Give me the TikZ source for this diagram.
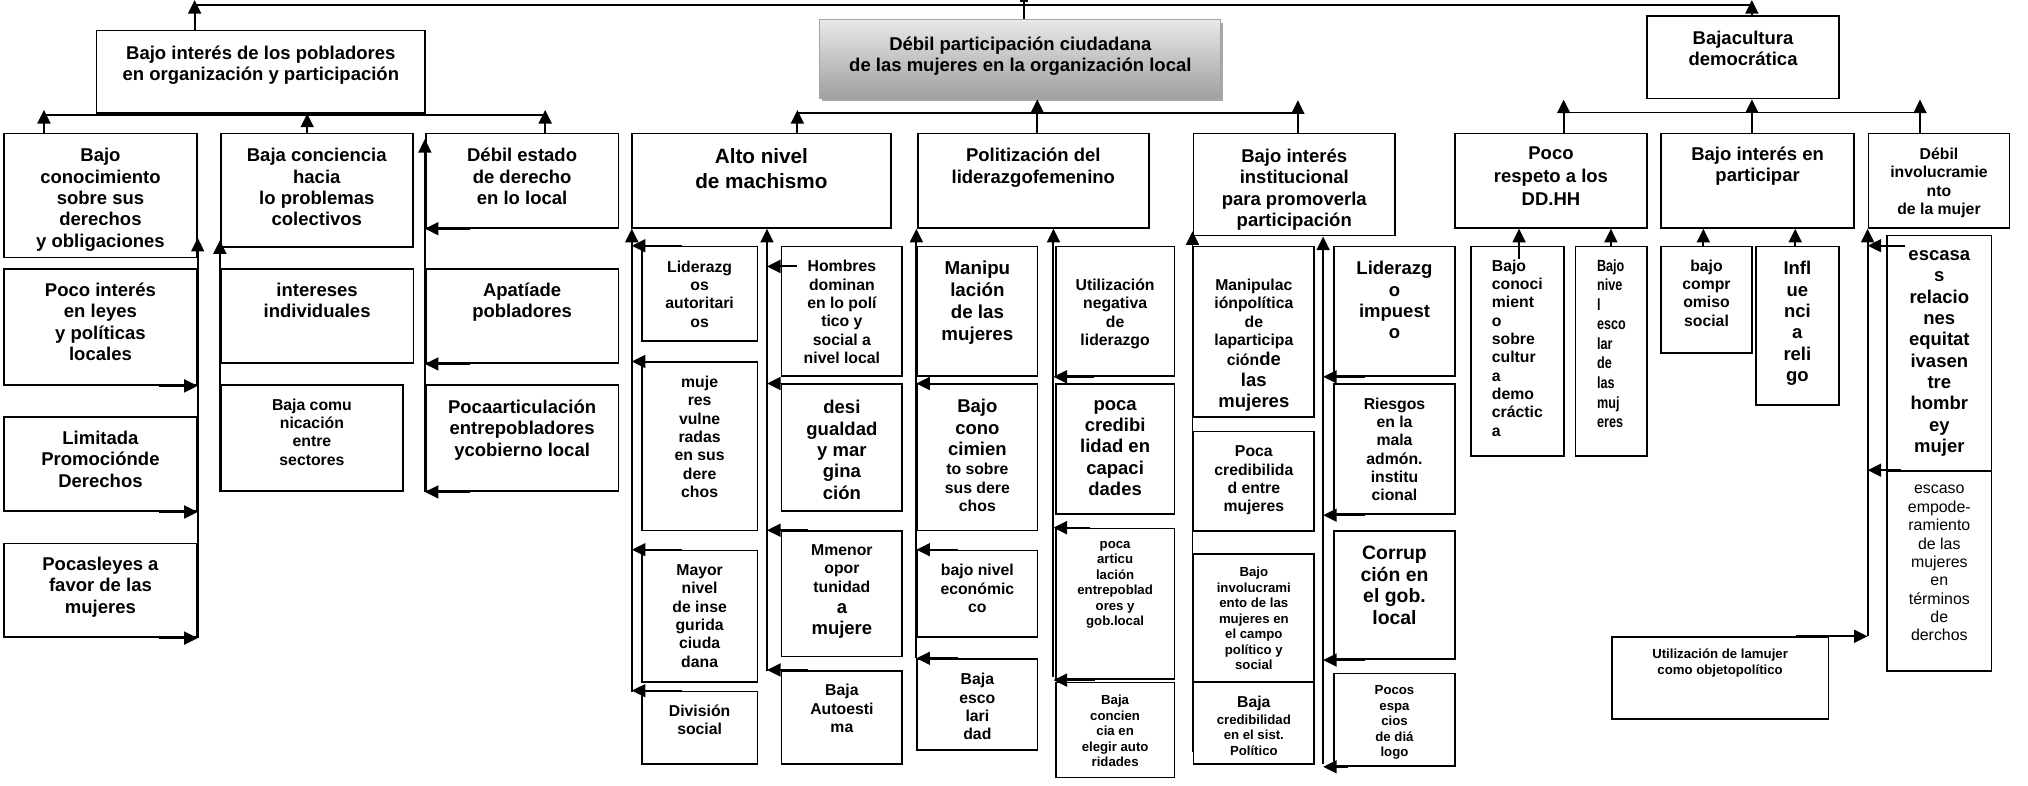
\documentclass[tikz,border=0pt]{standalone}
\usepackage{fontspec}
\setmainfont{Liberation Sans}
\usetikzlibrary{positioning,arrows.meta,shadows}
\newcommand{\grande}[1]{{\fontsize{14.3}{16.5}\selectfont #1}}
\newcommand{\medio}[1]{{\fontsize{12.2}{14.2}\selectfont #1}}

\begin{document}
\begin{tikzpicture}[x=1pt,y=-1pt]
\tikzstyle{box}=[draw,line width=1.35pt,anchor=north west,inner sep=0pt]
\tikzstyle{txt}=[align=center,inner sep=0pt,below=11pt]
\tikzstyle{big}=[font=\fontsize{14.3}{16.5}\selectfont\bfseries]
\tikzstyle{mid}=[font=\fontsize{12.2}{14.2}\selectfont\bfseries]
\tikzstyle{sml}=[font=\fontsize{10.2}{12}\selectfont\bfseries]
\tikzstyle{arr}=[line width=1.5pt,-{Triangle[length=10.5pt,width=10pt]}]
\tikzstyle{bus}=[line width=1.3pt]

\fill [white] (0,0) rectangle (1568,607);
\useasboundingbox (0,0) rectangle (1568,607);

% left branch
\node (l0) [box,minimum width=254pt,minimum height=63.5pt,label={[txt,big,below=12pt]north:{Bajo interés de los pobladores\\en organización y participación}}] at (74,23) {};
\node (l1) [box,minimum width=149pt,minimum height=96pt,label={[txt,big,below=12pt]north:{Bajo\\conocimiento\\sobre sus\\derechos\\y obligaciones}}] at (2.5,102.5) {};
\node (l2) [box,minimum width=148.5pt,minimum height=88pt,label={[txt,big,below=12pt]north:{Baja conciencia\\hacia\\lo problemas\\colectivos}}] at (170,102.5) {};
\node (l3) [box,minimum width=149pt,minimum height=73pt,label={[txt,big,below=12pt]north:{Débil estado\\de derecho\\en lo local}}] at (328.5,102.5) {};
\node (l1a) [box,minimum width=149pt,minimum height=89.5pt,label={[txt,big]north:{Poco interés\\en leyes\\y políticas\\locales}}] at (2.5,207.5) {};
\node (l1b) [box,minimum width=149pt,minimum height=72.5pt,label={[txt,big]north:{Limitada\\Promociónde\\Derechos}}] at (2.5,322) {};
\node (l1c) [box,minimum width=149pt,minimum height=72.5pt,label={[txt,big]north:{Pocasleyes a\\favor de las\\mujeres}}] at (2.5,419.5) {};
\node (l2a) [box,minimum width=149pt,minimum height=72.5pt,label={[txt,big]north:{intereses\\individuales}}] at (170,207.5) {};
\node (l2b) [box,minimum width=141pt,minimum height=82pt,label={[txt,mid]north:{Baja comu\\nicación\\entre\\sectores}}] at (170,297) {};
\node (l3a) [box,minimum width=149pt,minimum height=72.5pt,label={[txt,big]north:{Apatíade\\pobladores}}] at (328.5,207.5) {};
\node (l3b) [box,minimum width=149pt,minimum height=82pt,label={[txt,big,below=12pt]north:{Pocaarticulación\\entrepobladores\\ycobierno local}}] at (328.5,297) {};

% central problem
\node (c0) [box,draw=gray!70,line width=0.8pt,top color=gray!18,bottom color=gray!75,drop shadow={shadow xshift=2pt,shadow yshift=-2pt,fill=gray!70,opacity=1},minimum width=310pt,minimum height=61pt,label={[txt,big,below=13pt]north:{Débil participación ciudadana\\de las mujeres en la organización local}}] at (633.5,15) {};
\node (c1) [box,minimum width=200pt,minimum height=73pt,label={[txt,font=\fontsize{16}{19.3}\selectfont\bfseries,below=12.5pt]north:{Alto nivel\\de machismo}}] at (488,102.5) {};
\node (c2) [box,minimum width=178.5pt,minimum height=73pt,label={[txt,big,below=12pt]north:{Politización del\\liderazgofemenino}}] at (709,102.5) {};
\node (c3) [box,minimum width=156pt,minimum height=79pt,label={[txt,big,below=12.5pt]north:{Bajo interés\\institucional\\para promoverla\\participación}}] at (922,102.5) {};

% machismo
\node (ma1) [box,minimum width=89.5pt,minimum height=73pt,label={[txt,mid,below=11.4pt]north:{Liderazg\\os\\autoritari\\os}}] at (495.5,190) {};
\node (ma2) [box,minimum width=89.5pt,minimum height=130pt,label={[txt,mid]north:{muje\\res\\vulne\\radas\\en sus\\dere\\chos}}] at (495.5,279.5) {};
\node (ma3) [box,minimum width=89.5pt,minimum height=101.5pt,label={[txt,mid,below=11.3pt]north:{Mayor\\nivel\\de inse\\gurida\\ciuda\\dana}}] at (495.5,425) {};
\node (ma4) [box,minimum width=89.5pt,minimum height=56pt,label={[txt,mid,below=10.7pt]north:{División\\social}}] at (495.5,534) {};
\node (mb1) [box,minimum width=93.5pt,minimum height=100pt,label={[txt,mid]north:{Hombres\\dominan\\en lo polí\\tico y\\social a\\nivel local}}] at (603.5,190) {};
\node (mb2) [box,minimum width=93.5pt,minimum height=98pt,label={[txt,big,below=13pt]north:{desi\\gualdad\\y mar\\gina\\ción}}] at (603.5,296.5) {};
\node (mb3) [box,minimum width=93.5pt,minimum height=97pt,label={[txt,mid,below=10.8pt]north:{Mmenor\\opor\\tunidad\\[2pt]\grande{a}\\[2.5pt]\grande{mujere}}}] at (603.5,410) {};
\node (mb4) [box,minimum width=93.5pt,minimum height=72pt,label={[txt,mid,below=10.9pt]north:{Baja\\Autoesti\\ma}}] at (603.5,518) {};

% politizacion
\node (mc1) [box,minimum width=93pt,minimum height=100pt,label={[txt,font=\fontsize{14.5}{17}\selectfont\bfseries,below=11.8pt]north:{Manipu\\lación\\de las\\mujeres}}] at (708.5,190) {};
\node (mc2) [box,minimum width=93pt,minimum height=113pt,label={[txt,mid,below=12pt]north:{\grande{Bajo}\\[2.5pt]\grande{cono}\\[2.5pt]\grande{cimien}\\[0.5pt]to sobre\\sus dere\\chos}}] at (708.5,296.5) {};
\node (mc3) [box,minimum width=93pt,minimum height=67pt,label={[txt,mid,below=11.3pt]north:{bajo nivel\\económic\\co}}] at (708.5,425) {};
\node (mc4) [box,minimum width=93pt,minimum height=70pt,label={[txt,mid,below=11.4pt]north:{Baja\\esco\\lari\\dad}}] at (708.5,509) {};
\node (md1) [box,minimum width=92pt,minimum height=100pt,label={[txt,mid,below=25.5pt]north:{Utilización\\negativa\\de\\liderazgo}}] at (815.5,190) {};
\node (md2) [box,minimum width=92pt,minimum height=100pt,label={[txt,big,below=12.6pt]north:{poca\\credibi\\lidad en\\capaci\\dades}}] at (815.5,296.5) {};
\node (md3) [box,minimum width=92pt,minimum height=116.5pt,label={[txt,sml,below=10.3pt]north:{poca\\articu\\lación\\entrepoblad\\ores y\\gob.local}}] at (815.5,408) {};
\node (md4) [box,minimum width=92pt,minimum height=73.5pt,label={[txt,sml,below=10.3pt]north:{Baja\\concien\\cia en\\elegir auto\\ridades}}] at (815.5,527) {};

% institucional
\node (me1) [box,minimum width=93.5pt,minimum height=132pt,label={[txt,mid,below=25.6pt]north:{Manipulac\\iónpolítica\\de\\laparticipa\\[1.3pt]ción\grande{de}\\[2pt]\grande{las}\\[2pt]\grande{mujeres}}}] at (922,190) {};
\node (me2) [box,minimum width=93.5pt,minimum height=77pt,label={[txt,mid,below=11.6pt]north:{Poca\\credibilida\\d entre\\mujeres}}] at (922,333) {};
\node (me3) [box,minimum width=93.5pt,minimum height=99pt,label={[txt,sml,below=10.8pt]north:{Bajo\\involucrami\\ento de las\\mujeres en\\el campo\\político y\\social}}] at (922,427.5) {};
\node (me4) [box,minimum width=93.5pt,minimum height=63.5pt,label={[txt,sml,below=11.4pt]north:{\medio{Baja}\\[1pt]credibilidad\\en el sist.\\Político}}] at (922,526.5) {};
\node (mf1) [box,minimum width=93pt,minimum height=100pt,label={[txt,big,below=12pt]north:{Liderazg\\o\\impuest\\o}}] at (1031,190) {};
\node (mf2) [box,minimum width=93pt,minimum height=100.5pt,label={[txt,mid,below=10.8pt]north:{Riesgos\\en la\\mala\\admón.\\institu\\cional}}] at (1031,296.5) {};
\node (mf3) [box,minimum width=93pt,minimum height=99pt,label={[txt,font=\fontsize{15}{16.8}\selectfont\bfseries,below=11.8pt]north:{Corrup\\ción en\\el gob.\\local}}] at (1031,410) {};
\node (mf4) [box,minimum width=93pt,minimum height=71.5pt,label={[txt,sml,below=10pt]north:{Pocos\\espa\\cios\\de diá\\logo}}] at (1031,520) {};

% right branch
\node (r0) [box,minimum width=148pt,minimum height=64pt,label={[txt,big,below=12pt]north:{Bajacultura\\democrática}}] at (1273,11.5) {};
\node (r1) [box,minimum width=149pt,minimum height=73pt,label={[txt,big]north:{Poco\\[1pt]respeto a los\\[1pt]DD.HH}}] at (1124,102.5) {};
\node (r2) [box,minimum width=149.5pt,minimum height=73pt,label={[txt,big]north:{Bajo interés en\\participar}}] at (1283.5,102.5) {};
\node (r3) [box,minimum width=109pt,minimum height=73pt,label={[txt,mid,below=11.5pt]north:{Débil\\involucramie\\nto\\de la mujer}}] at (1444,102.5) {};
\node (rb1) [box,minimum width=72pt,minimum height=162pt,label={[txt,mid,align=left,below=10.5pt]north:{Bajo\\conoci\\mient\\o\\sobre\\cultur\\a\\demo\\cráctic\\a}}] at (1136.5,190) {};
\node (rb2) [box,minimum width=55.5pt,minimum height=162pt,label={[txt,font=\fontsize{12.5}{15.1}\selectfont\bfseries\addfontfeatures{FakeStretch=0.78},align=left,below=10.5pt]north:{Bajo\\nive\\l\\esco\\lar\\de\\las\\muj\\eres}}] at (1217.5,190) {};
\node (rc1) [box,minimum width=70.5pt,minimum height=82pt,label={[txt,mid,below=10.5pt]north:{bajo\\compr\\omiso\\social}}] at (1283.5,190) {};
\node (rc2) [box,minimum width=64pt,minimum height=122.5pt,label={[txt,big,below=12pt]north:{Infl\\ue\\nci\\a\\reli\\go}}] at (1357,190) {};
\node (rd1) [box,minimum width=80.5pt,minimum height=182pt,label={[txt,big,below=12pt]north:{escasa\\s\\relacio\\nes\\equitat\\ivasen\\tre\\hombr\\ey\\mujer}}] at (1458.5,181.5) {};
\node (rd2) [box,minimum width=80.5pt,minimum height=154.5pt,label={[txt,font=\fontsize{12.3}{14.2}\selectfont,below=11.6pt]north:{escaso\\empode-\\ramiento\\de las\\mujeres\\en\\términos\\de\\derchos}}] at (1458.5,363.5) {};
\node (rd3) [box,minimum width=167.5pt,minimum height=63.5pt,label={[txt,sml,below=9.5pt]north:{Utilización de lamujer\\como objetopolítico}}] at (1245.5,492) {};

% top line
\coordinate (tL) at (150.5,4);
\coordinate (tC) at (791.5,4);
\coordinate (tR) at (1354.5,4);
\draw [bus] (tL) -- (tR);
\draw [arr] (l0.north -| tL) -- ([yshift=4pt]tL);
\draw [arr] (r0.north -| tR) -- ([yshift=4pt]tR);
\draw [bus] (c0.north -| tC) -- ([yshift=4pt]tC);
\draw [bus] ([xshift=-3pt,yshift=3pt]tC) -- ([xshift=3pt,yshift=3pt]tC);

% left connectors
\coordinate (bL1) at (34,89);
\coordinate (bL2) at (421.5,89);
\draw [bus] (bL1) -- (bL2);
\draw [arr] (l1.north -| bL1) -- ([yshift=4pt]bL1);
\draw [arr] (l3.north -| bL2) -- ([yshift=4pt]bL2);
\draw [arr] (l2.north -| 237.5,0) -- (l0.south -| 237.5,0);
\draw [arr] (l1c.south east) -- ([yshift=16pt]l1.south east);
\draw [arr] ([xshift=-30pt]l1a.south east) -- (l1a.south east);
\draw [arr] ([xshift=-30pt]l1b.south east) -- (l1b.south east);
\draw [arr] ([xshift=-30pt]l1c.south east) -- (l1c.south east);
\draw [arr] (l2b.south west) -- ([yshift=6pt]l2.south west);
\draw [arr] (l3b.south west) -- ([yshift=-5pt]l3.north west);
\draw [arr] ([xshift=35pt]l3.south west) -- (l3.south west);
\draw [arr] ([xshift=35pt]l3a.south west) -- (l3a.south west);
\draw [arr] ([xshift=35pt]l3b.south west) -- (l3b.south west);

% central connectors
\coordinate (bC1) at (616.5,87.5);
\coordinate (bC2) at (1003.5,87.5);
\draw [bus] (bC1) -- (bC2);
\draw [arr] (c1.north -| bC1) -- ([yshift=2.5pt]bC1);
\draw [arr] (c3.north -| bC2) -- ([yshift=10pt]bC2);
\draw [arr] (c2.north -| 802,0) -- (c0.south -| 802,0);

\coordinate (sA) at (488.5,535);
\draw [arr] (sA) -- (c1.south -| sA);
\draw [arr] ([xshift=31.5pt]ma1.north west) -- (ma1.north west -| sA);
\draw [arr] ([xshift=31.5pt]ma2.north west) -- (ma2.north west -| sA);
\draw [arr] ([xshift=31.5pt]ma3.north west) -- (ma3.north west -| sA);
\draw [arr] ([xshift=31.5pt]ma4.north west) -- (ma4.north west -| sA);
\coordinate (sB) at (593,519);
\draw [arr] (sB) -- (c1.south -| sB);
\draw [arr] ([xshift=12.5pt,yshift=-16pt]mb1.north west) -- ++(-23,0);
\draw [arr] ([xshift=21.5pt]mb2.north west) -- (mb2.north west -| sB);
\draw [arr] ([xshift=21.5pt]mb3.north west) -- (mb3.north west -| sB);
\draw [arr] ([xshift=21.5pt]mb4.north west) -- (mb4.north west -| sB);

\draw [arr] (mc4.north west) -- (c2.south -| mc4.north west);
\draw [arr] ([xshift=32.5pt]mc2.north west) -- (mc2.north west);
\draw [arr] ([xshift=32.5pt]mc3.north west) -- (mc3.north west);
\draw [arr] ([xshift=32.5pt]mc4.north west) -- (mc4.north west);
\coordinate (sQ) at (814.5,523.5);
\draw [arr] (sQ) -- (c2.south -| sQ);
\draw [arr] ([xshift=30pt]md1.south west) -- (md1.south west -| sQ);
\draw [arr] ([xshift=27pt]md3.north west) -- (md3.north west -| sQ);
\draw [arr] ([xshift=31pt]md3.south west) -- (md3.south west -| sQ);

\draw [arr] ([yshift=10pt]me4.south west) -- ([yshift=4pt]c3.south west);
\coordinate (sS) at (1023,590.5);
\draw [arr] (sS) -- (c3.south -| sS);
\draw [arr] ([xshift=24.5pt]mf1.south west) -- (mf1.south west -| sS);
\draw [arr] ([xshift=24.5pt]mf2.south west) -- (mf2.south west -| sS);
\draw [arr] ([xshift=24.5pt]mf3.south west) -- (mf3.south west -| sS);
\draw [arr] ([xshift=11.5pt]mf4.south west) -- (mf4.south west -| sS);

% right connectors
\coordinate (bR1) at (1209,87);
\coordinate (bR2) at (1484.5,87);
\draw [bus] (bR1) -- (bR2);
\draw [arr] (r1.north -| bR1) -- ([yshift=10pt]bR1);
\draw [arr] (r3.north -| bR2) -- ([yshift=10pt]bR2);
\draw [arr] (r2.north -| tR) -- (r0.south -| tR);
\draw [arr] (rb1.north -| 1174.5,0) ++(0,10) -- (r1.south -| 1174.5,0);
\draw [arr] (rb2.north -| 1245.5,0) -- (r1.south -| 1245.5,0);
\draw [arr] (rc1.north -| 1317,0) -- (r2.south -| 1317,0);
\draw [arr] (rc2.north -| 1388,0) -- (r2.south -| 1388,0);
\coordinate (sR) at (1444,491.5);
\draw [arr] (sR) -- (r3.south west);
\draw [arr] ([xshift=14pt,yshift=-8.5pt]rd1.north west) -- ++(-28.5,0);
\draw [arr] ([xshift=11pt]rd2.north west) -- (rd2.north west -| sR);
\draw [arr] ([xshift=-26pt]rd3.north east) -- (rd3.north east -| sR);
\end{tikzpicture}
\end{document}
